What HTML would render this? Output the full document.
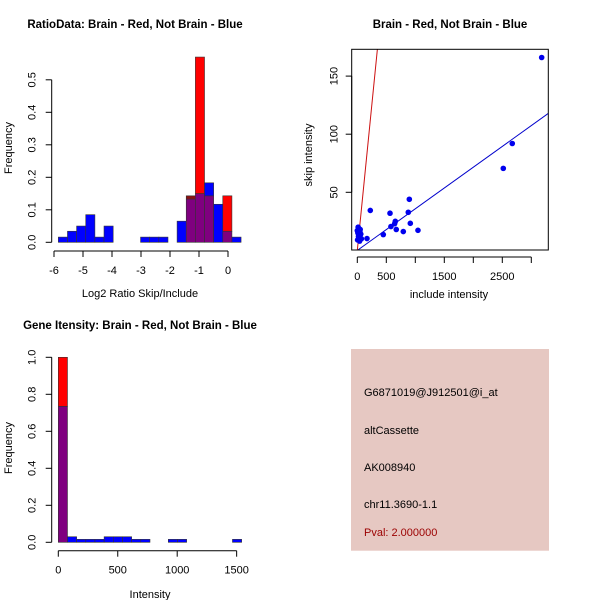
<!DOCTYPE html>
<html><head><meta charset="utf-8"><style>
html,body{margin:0;padding:0;background:#fff;}
svg{display:block;font-family:"Liberation Sans",Arial,sans-serif;}
</style></head><body>
<svg id="c" width="600" height="600" xmlns="http://www.w3.org/2000/svg">
<rect width="600" height="600" fill="#fff"/>
</svg>
<script>
// Panel 1: log2 ratio histogram
const ratioStart = -5.85, ratioWidth = 0.315;
const ratioBlue = [0.016,0.034,0.05,0.085,0.016,0.05,0,0,0,0.016,0.016,0.016,0,0.065,0.133,0.15,0.183,0.117,0.034,0.016];
const ratioRed  = [0,0,0,0,0,0,0,0,0,0,0,0,0,0,0.143,0.57,0.143,0,0.143,0];
const ratioXTicks = [-6,-5,-4,-3,-2,-1,0];
const ratioYTicks = [0,0.1,0.2,0.3,0.4,0.5];
// Panel 2: scatter
const incl = [3179,2672,2517,897,879,914,1046,564,224,655,644,580,672,793,448,167,0,10,20,30,40,50,60,70,15,5,25,45];
const skip = [166,92,70.6,44,32.8,23.3,17.3,32,34.4,25,23,20.5,18,16.2,13.6,10.2,17,15,12,10,8,18,14,10,20,9,13,16];
const blueSlope = 0.0358, redSlope = 0.5;
const scXTicks = [0,500,1000,1500,2000,2500,3000];
const scXLabels = ["0","500","","1500","","2500",""];
const scYTicks = [50,100,150];
// Panel 3: intensity histogram
const intStart = 0, intWidth = 77.1;
const intBlue = [0.735,0.03,0.016,0.016,0.016,0.03,0.03,0.03,0.016,0.016,0,0,0.016,0.016,0,0,0,0,0,0.016];
const intRed  = [1.0,0,0,0,0,0,0,0,0,0,0,0,0,0,0,0,0,0,0,0];
const intXTicks = [0,500,1000,1500];
const intYTicks = [0,0.2,0.4,0.6,0.8,1.0];
// Panel 4
const infoLines = ["G6871019@J912501@i_at","altCassette","AK008940","chr11.3690-1.1"];
const pval = "Pval: 2.000000";

const svg = document.getElementById('c');
const NS = 'http://www.w3.org/2000/svg';
function mk(tag, attrs, parent){const e=document.createElementNS(NS,tag);for(const k in attrs)e.setAttribute(k,attrs[k]);(parent||svg).appendChild(e);return e;}
function txt(s, attrs, parent){const e=mk('text',attrs,parent);e.textContent=s;return e;}
function grp(){return mk('g',{});}

function hist(g, start, width, blue, red, X, Y){
  for(let i=0;i<blue.length;i++){
    const a=start+i*width, b=a+width, bl=blue[i], rd=red[i];
    const lo=Math.min(bl,rd), hi=Math.max(bl,rd);
    if(hi<=0) continue;
    if(lo>0){
      const r=mk('rect',{x:X(a),y:Y(lo),width:X(b)-X(a),height:Y(0)-Y(lo),fill:'#7f007f',stroke:'#333','stroke-width':0.6},g);
      
      
    }
    if(hi>lo){
      const col = rd>bl ? (lo>0 && hi-lo<0.02 ? '#8b1010' : '#ff0000') : '#0000ff';
      const r=mk('rect',{x:X(a),y:Y(hi),width:X(b)-X(a),height:Y(lo)-Y(hi),fill:col,stroke:'#333','stroke-width':0.6},g);
      
      
    }
  }
}
function yAxis(g, x, ticks, Y, fmt, off){
  mk('line',{x1:x,x2:x,y1:Y(ticks[0]),y2:Y(ticks[ticks.length-1]),stroke:'#000'},g);
  ticks.forEach(t=>{
    mk('line',{x1:x-6,x2:x,y1:Y(t),y2:Y(t),stroke:'#000'},g);
    const tx=x-off;
    const e=txt(fmt(t),{x:tx,y:Y(t),'font-size':11,'text-anchor':'middle',transform:`rotate(-90 ${tx} ${Y(t)})`},g);
    
    
  });
}
function xAxis(g, y, ticks, labels, X){
  mk('line',{x1:X(ticks[0]),x2:X(ticks[ticks.length-1]),y1:y,y2:y,stroke:'#000'},g);
  ticks.forEach((t,i)=>{
    mk('line',{x1:X(t),x2:X(t),y1:y,y2:y+6,stroke:'#000'},g);
    const e=txt(labels[i],{x:X(t),y:y+23,'font-size':11,'text-anchor':'middle'},g);
    
    
  });
}
function title(s,x,y){const e=txt(s,{x:x,y:y,'font-size':11.5,'font-weight':'bold','text-anchor':'middle'});}
function xtitle(s,x,y){const e=txt(s,{x:x,y:y,'font-size':11,'text-anchor':'middle'});}
function ytitle(s,x,y){const e=txt(s,{x:x,y:y,'font-size':11,'text-anchor':'middle',transform:`rotate(-90 ${x} ${y})`});}

// Panel 1
{
  const g=grp();  
  const X=v=>228+v*29, Y=v=>242.3-v*325;
  hist(g, ratioStart, ratioWidth, ratioBlue, ratioRed, X, Y);
  yAxis(g, 51.7, ratioYTicks, Y, t=>t.toFixed(1), 16);
  xAxis(g, 251, ratioXTicks, ratioXTicks.map(String), X);
  title('RatioData: Brain - Red, Not Brain - Blue',135,28);
  xtitle('Log2 Ratio Skip/Include',140,297);
  ytitle('Frequency',12,148);
}
// Panel 2
{
  const g=grp();  
  const X=v=>357.3+v*0.058, Y=v=>250.4-v*1.162;
  const L=351.7,R=548.3,T=49.3,B=250;
  mk('defs',{},g).innerHTML='<clipPath id="clp"><rect x="351.7" y="49.3" width="196.6" height="200.7"/></clipPath>';
  const cg=mk('g',{'clip-path':'url(#clp)'},g);
  const bl=mk('line',{x1:X(0),y1:Y(0),x2:X(3400),y2:Y(3400*blueSlope),stroke:'#0000cc','stroke-width':1},cg);
   
  const rl=mk('line',{x1:X(0),y1:Y(0),x2:X(400),y2:Y(400*redSlope),stroke:'#cc1010','stroke-width':1},cg);
   
  incl.forEach((v,i)=>{
    const p=mk('circle',{cx:X(v),cy:Y(skip[i]),r:2.8,fill:'#0000ee'},cg);
    
    
  });
  mk('rect',{x:L,y:T,width:R-L,height:B-T,fill:'none',stroke:'#000'},g);
  yAxis(g, L, scYTicks, Y, String, 14);
  xAxis(g, B+7, scXTicks, scXLabels, X);
  title('Brain - Red, Not Brain - Blue',450,28);
  xtitle('include intensity',449,298);
  ytitle('skip intensity',312,155);
}
// Panel 3
{
  const g=grp();  
  const X=v=>58.3+v*0.1189, Y=v=>542.3-v*185;
  hist(g, intStart, intWidth, intBlue, intRed, X, Y);
  yAxis(g, 51.7, intYTicks, Y, t=>t.toFixed(1), 16);
  xAxis(g, 550.7, intXTicks, intXTicks.map(String), X);
  title('Gene Itensity: Brain - Red, Not Brain - Blue',140,329);
  xtitle('Intensity',150,598);
  ytitle('Frequency',12,448);
}
// Panel 4
{
  const g=grp();  
  mk('rect',{x:351,y:349,width:198,height:201.7,fill:'#e6c8c2'},g);
  const ys=[396,434,471,508];
  infoLines.forEach((s,i)=>{
    const e=txt(s,{x:364,y:ys[i],'font-size':11,fill:'#000'},g);
    
    
  });
  const p=txt(pval,{x:364,y:536,'font-size':11,fill:'#9b0000'},g);
  
  
}
</script>
</body></html>
